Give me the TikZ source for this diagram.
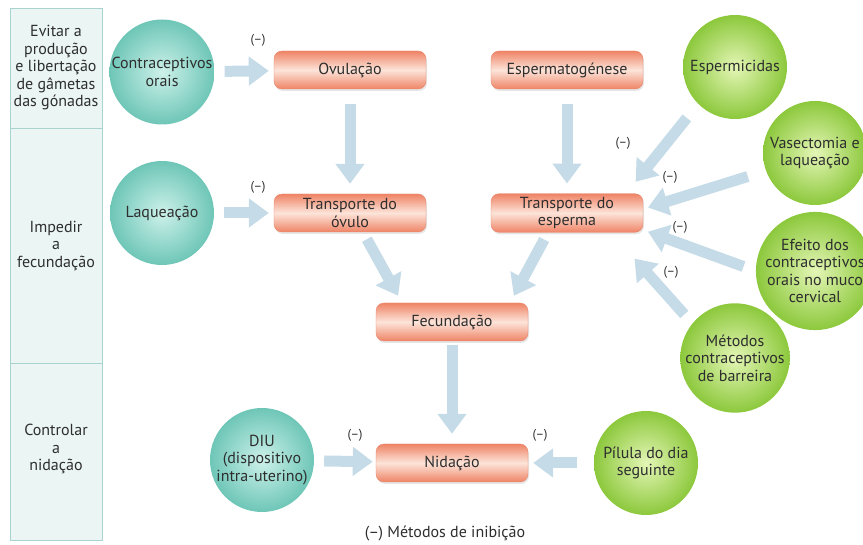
\documentclass[tikz,border=0pt]{standalone}
\usepackage{fontspec}
\setmainfont{PT Sans}
\usetikzlibrary{arrows.meta,calc,shadows}
\definecolor{tealin}{HTML}{CDF1EA}
\definecolor{tealout}{HTML}{6EC6B7}
\definecolor{greenin}{HTML}{E4F6B6}
\definecolor{greenout}{HTML}{8CC83C}
\definecolor{salm}{HTML}{EF8466}
\definecolor{salmlight}{HTML}{FCE4D9}
\definecolor{salmedge}{HTML}{E8866A}
\definecolor{setacor}{HTML}{C6DBE8}
\definecolor{painel}{HTML}{EAF5F4}
\definecolor{painellinha}{HTML}{A9D3CF}
\definecolor{txt}{HTML}{2E2E2E}
\begin{document}
\begin{tikzpicture}[x=1pt,y=-1pt,font=\fontsize{16}{17.5}\selectfont,text=txt,
  metodo/.style={circle,minimum size=104pt,inner sep=0pt,align=center},
  azul/.style={metodo,inner color=tealin,outer color=tealout},
  verde/.style={metodo,inner color=greenin,outer color=greenout},
  etapa/.style={rounded corners=8pt,minimum width=152pt,minimum height=38pt,align=center,
    top color=salm,bottom color=salm,middle color=salmlight,draw=salmedge,
    drop shadow={shadow xshift=1pt,shadow yshift=-2pt,opacity=.2}},
  seta/.style={line width=11pt,draw=setacor,-{Triangle[width=28pt,length=20pt]}},
  menos/.style={font=\fontsize{13}{15}\selectfont}]
\useasboundingbox (0,0) rectangle (863,545);
% coluna da esquerda
\draw[painellinha,fill=painel] (10,8) rectangle (102,540);
\draw[painellinha] (10,128)--(102,128);
\draw[painellinha] (10,363)--(102,363);
\node[align=center] (evitar) at (56,68) {Evitar a\\produção\\e libertação\\de gâmetas\\das gónadas};
\node[align=center] (impedir) at (56,246) {Impedir\\a\\fecundação};
\node[align=center] (controlar) at (56,449) {Controlar\\a\\nidação};

% etapas
\node[etapa] (ovu) at (350,70) {Ovulação};
\node[etapa] (spg) at (567,70) {Espermatogénese};
\node[etapa] (tov) at (350,213) {Transporte do\\óvulo};
\node[etapa] (tes) at (567,213) {Transporte do\\esperma};
\node[etapa] (fec) at (452,322) {Fecundação};
\node[etapa] (nid) at (452,463) {Nidação};

% metodos
\node[azul] (co) at (162,72) {Contraceptivos\\orais};
\node[azul] (laq) at (162,213) {Laqueação};
\node[azul] (diu) at (262,460) {DIU\\(dispositivo\\intra-uterino)};
\node[verde] (esp) at (735,67) {Espermicidas};
\node[verde] (vas) at (815,153) {Vasectomia e\\laqueação};
\node[verde] (efe) at (815,271) {Efeito dos\\contraceptivos\\orais no muco\\cervical};
\node[verde] (bar) at (735,358) {Métodos\\contraceptivos\\de barreira};
\node[verde] (pil) at (646,463) {Pílula do dia\\seguinte};

% setas
\draw[seta,shorten <=10pt,shorten >=5pt] (co)--(ovu);
\draw[seta,shorten <=10pt,shorten >=5pt] (laq)--(tov);
\draw[seta,shorten <=15pt,shorten >=10pt] (ovu)--(tov);
\draw[seta,shorten <=15pt,shorten >=10pt] (spg)--(tes);
\draw[seta,shorten <=8pt,shorten >=8pt] ($(tov.south)+(13,0)$)--($(fec.north)+(-50,0)$);
\draw[seta,shorten <=8pt,shorten >=8pt] ($(tes.south)+(-19,0)$)--($(fec.north)+(58,0)$);
\draw[seta,shorten <=4pt,shorten >=10pt] (fec)--(nid);
\draw[seta,shorten <=10pt,shorten >=3pt] (diu)--(nid);
\draw[seta,shorten <=17pt,shorten >=5pt] (pil)--(nid);
\draw[seta,shorten <=18pt,shorten >=15pt] (esp.225)--($(tes.north east)+(-17,0)$);
\draw[seta,shorten <=19pt,shorten >=5pt] (vas.200)--($(tes.east)+(0,-4)$);
\draw[seta,shorten <=13pt,shorten >=5pt] (efe.west)--($(tes.east)+(0,17)$);
\draw[seta,shorten <=12pt,shorten >=35pt] (bar.141)--($(tes.south east)+(-32,0)$);

% (-)
\node[menos] at (258,40) {(–)};
\node[menos] at (258,187) {(–)};
\node[menos] at (355,435) {(–)};
\node[menos] at (540,435) {(–)};
\node[menos] at (623,143) {(–)};
\node[menos] at (670,177) {(–)};
\node[menos] at (680,227) {(–)};
\node[menos] at (671,272) {(–)};
\node (legenda) at (445,533) {(–) Métodos de inibição};
\end{tikzpicture}
\end{document}
